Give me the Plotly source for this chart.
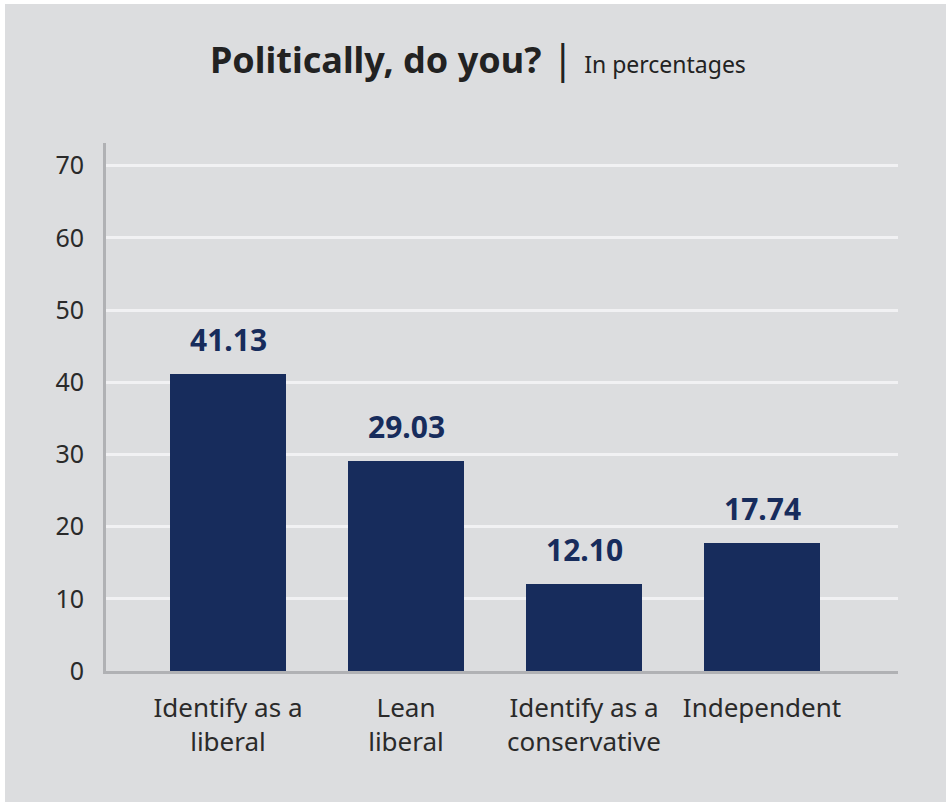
import plotly.graph_objects as go

# Survey responses, percent of respondents
categories = ["Identify as a<br>liberal", "Lean<br>liberal", "Identify as a<br>conservative", "Independent"]
values = [41.13, 29.03, 12.10, 17.74]
value_labels = ["41.13", "29.03", "12.10", "17.74"]
y_ticks = [0, 10, 20, 30, 40, 50, 60, 70]

BG = "#dcdddf"
NAVY = "#172c5c"
GRID = "#f1f1f3"
AXIS = "#b0b1b4"
TEXT = "#2a2a2a"

W, H = 946, 802
ML, MR, MT, MB = 106, 48, 143, 131
PH = H - MT - MB

xpos = list(range(len(categories)))

fig = go.Figure(
    go.Bar(
        x=xpos,
        y=values,
        width=0.652,
        marker=dict(color=NAVY, line=dict(width=0)),
        hoverinfo="skip",
    )
)

# value labels above each bar
for xi, v, lab in zip(xpos, values, value_labels):
    fig.add_annotation(
        x=xi, y=v, xref="x", yref="y",
        text=f"<b>{lab}</b>", showarrow=False,
        yanchor="bottom", yshift=12,
        font=dict(family="Noto Sans", size=30, color=NAVY),
    )

# heading with subtitle
fig.add_annotation(
    xref="paper", yref="paper",
    x=(478 - ML) / (W - ML - MR), y=(H - MB - 57) / PH,
    xanchor="center", yanchor="middle", showarrow=False,
    text=("<b>Politically, do you?</b>"
          "<span style='font-size:40px'>&nbsp;|&nbsp;</span>"
          "<span style='font-size:23px'>In percentages</span>"),
    font=dict(family="Noto Sans", size=36, color="#222222"),
)

# thin white edge along the top and left of the card
fig.add_shape(type="rect", xref="paper", yref="paper", ysizemode="pixel", yanchor=1,
              x0=-0.5, x1=1.5, y0=MT, y1=MT - 4, fillcolor="white", line=dict(width=0), layer="above")
fig.add_shape(type="rect", xref="paper", yref="paper", xsizemode="pixel", xanchor=0,
              x0=-ML, x1=-ML + 5, y0=-0.5, y1=1.5, fillcolor="white", line=dict(width=0), layer="above")

fig.update_layout(
    width=W, height=H,
    margin=dict(l=ML, r=MR, t=MT, b=MB, pad=0),
    paper_bgcolor=BG,
    plot_bgcolor=BG,
    showlegend=False,
    bargap=0,
    xaxis=dict(
        range=[-0.6854, 3.764],
        tickvals=xpos, ticktext=categories,
        showgrid=False, zeroline=False,
        showline=True, linecolor=AXIS, linewidth=3,
        ticks="", ticklabelstandoff=12,
        tickfont=dict(family="Noto Sans", size=26, color=TEXT),
    ),
    yaxis=dict(
        range=[0, 73.14],
        tickvals=y_ticks,
        showgrid=True, gridcolor=GRID, gridwidth=3,
        zeroline=False,
        showline=True, linecolor=AXIS, linewidth=3,
        ticks="", ticklabelstandoff=14,
        tickfont=dict(family="Noto Sans", size=25, color=TEXT),
    ),
)

fig.write_html("out.html")
